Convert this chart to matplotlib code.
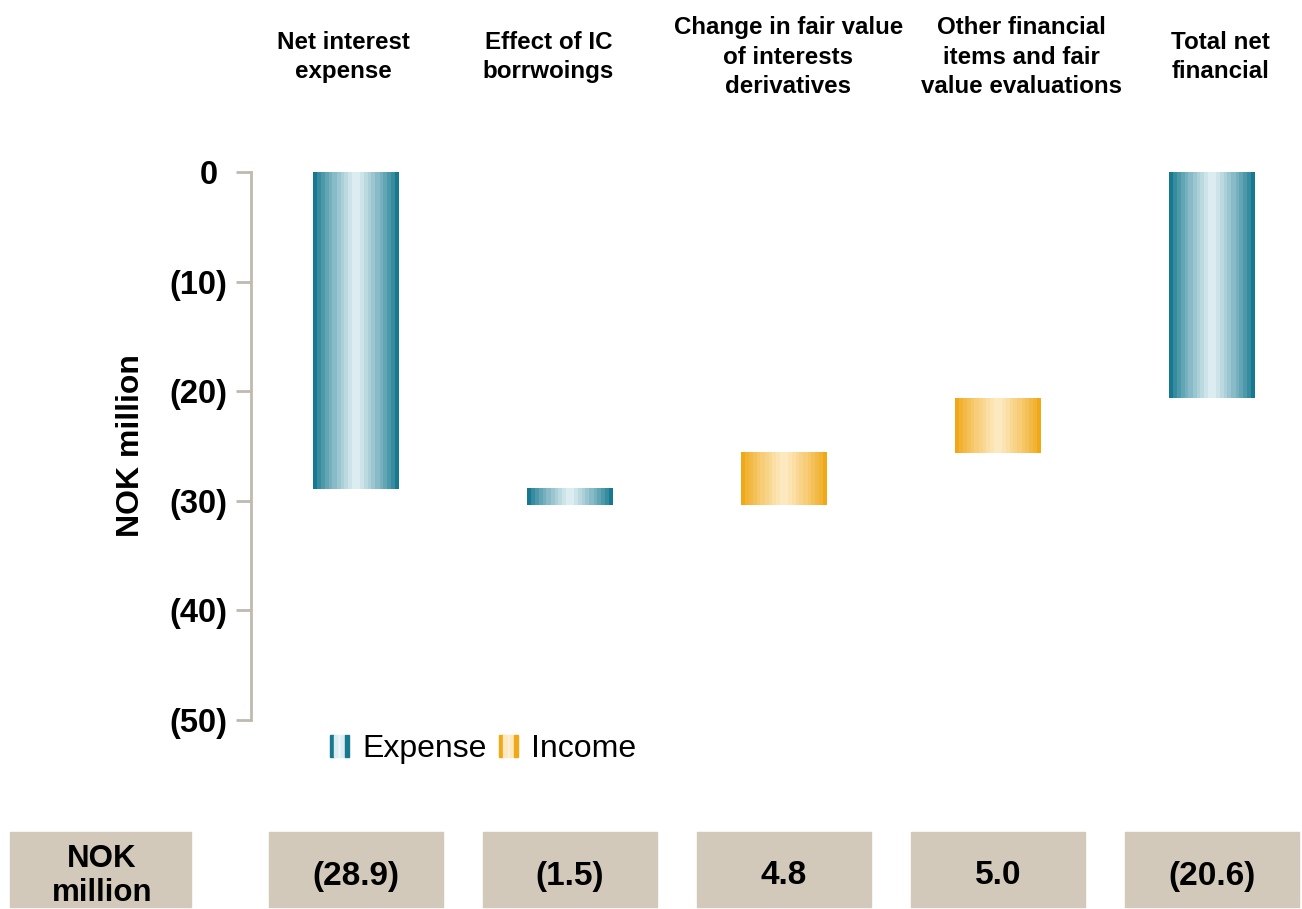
import numpy as np
import matplotlib.pyplot as plt
from matplotlib.colors import ListedColormap, to_rgb
from matplotlib.patches import Patch, Rectangle
from matplotlib.legend_handler import HandlerTuple
import matplotlib.transforms as mtransforms

plt.rcParams['font.family'] = ['Liberation Sans', 'DejaVu Sans']

# Financial items, NOK million
categories = ["Net interest\nexpense", "Effect of IC\nborrwoings",
              "Change in fair value\nof interests\nderivatives",
              "Other financial\nitems and fair\nvalue evaluations",
              "Total net\nfinancial"]
values = [-28.9, -1.5, 4.8, 5.0, -20.6]
is_total = [False, False, False, False, True]
yticks = [0, -10, -20, -30, -40, -50]

teal_dark, teal_light = "#17798f", "#dcedf1"
gold_dark, gold_light = "#f0a818", "#fde9c0"
box_color = "#d3c9bb"
axis_color = "#c0b9ae"


def banded_cmap(dark, light, steps=11):
    d, l = np.array(to_rgb(dark)), np.array(to_rgb(light))
    half = [d + (l - d) * (i / (steps - 1)) ** 0.8 for i in range(steps)]
    return ListedColormap(half + half[::-1])


def fmt(v):
    return f"({abs(v):.1f})" if v < 0 else f"{v:.1f}"


cmap_exp = banded_cmap(teal_dark, teal_light)
cmap_inc = banded_cmap(gold_dark, gold_light)

fig = plt.figure(figsize=(13.02, 9.09), dpi=100)
W, H = 1302, 909
ax = fig.add_axes([251 / W, 1 - 720 / H, (1302 - 251) / W, (720 - 172) / H])

xs = np.arange(len(values))
width = 0.40
grad = np.linspace(0, 1, 256).reshape(1, -1)

running = 0.0
for x, v, tot in zip(xs, values, is_total):
    if tot:
        lo, hi = min(0, v), max(0, v)
        running = v
    else:
        start = running
        running = running + v
        lo, hi = min(start, running), max(start, running)
    cmap = cmap_exp if v < 0 else cmap_inc
    ax.imshow(grad, cmap=cmap, aspect='auto', interpolation='nearest',
              extent=[x - width / 2, x + width / 2, lo, hi], zorder=2)

ax.set_xlim(-0.49, 4.42)
ax.set_ylim(-50, 0)

# Column headers above the plot (text boxes sit slightly off the bar centres)
hdr = mtransforms.blended_transform_factory(ax.transData, fig.transFigure)
hdr_shift = [-0.06, -0.10, 0.02, 0.11, 0.04]
for x, dx, c in zip(xs, hdr_shift, categories):
    ax.text(x + dx, 1 - 57 / H, c, transform=hdr, ha='center', va='center',
            fontsize=17.4, fontweight='bold', linespacing=1.38, clip_on=False)

# Axes styling
for s in ['top', 'right', 'bottom']:
    ax.spines[s].set_visible(False)
ax.spines['left'].set_color(axis_color)
ax.spines['left'].set_linewidth(2)
ax.spines['left'].set_bounds(-50, 0)
ax.set_xticks([])
ax.set_yticks(yticks)
ax.set_yticklabels(["0 " if t == 0 else f"({abs(t)})" for t in yticks],
                   fontsize=23.5, fontweight='bold')
ax.tick_params(axis='y', length=11, width=2, color=axis_color, pad=6)
ax.set_ylabel("NOK million", fontsize=23, fontweight='bold', labelpad=17)

# Legend with striped swatches
def swatch(dark, light):
    return (Patch(color=dark), Patch(color=light), Patch(color=light, alpha=0.5),
            Patch(color=light), Patch(color=dark))

handles = [swatch(teal_dark, teal_light), swatch(gold_dark, gold_light)]
leg = ax.legend(handles, ["Expense", "Income"], ncol=2, frameon=False,
                handler_map={tuple: HandlerTuple(ndivide=None, pad=0)},
                loc='center left', bbox_to_anchor=(79 / (1302 - 251), -29 / (720 - 172)),
                fontsize=23, handlelength=0.58, handleheight=0.7,
                handletextpad=0.42, columnspacing=0.4, borderaxespad=0,
                borderpad=0)

# Value table along the bottom
box_y0, box_h = 1 - 907 / H, 75 / H
text_y = 1 - 876 / H
fig.patches.append(Rectangle((10 / W, box_y0), 181 / W, box_h,
                             transform=fig.transFigure, color=box_color))
fig.text(102 / W, text_y, "NOK\nmillion", ha='center', va='center',
         fontsize=22.5, fontweight='bold', linespacing=1.2)
box_w = 0.81
for x, v in zip(xs, values):
    r = Rectangle((x - box_w / 2, box_y0), box_w, box_h, transform=hdr,
                  color=box_color, clip_on=False)
    ax.add_patch(r)
    ax.text(x, text_y, fmt(v), transform=hdr, ha='center', va='center',
            fontsize=24, fontweight='bold', clip_on=False)

fig.savefig("out.png", dpi=100)
